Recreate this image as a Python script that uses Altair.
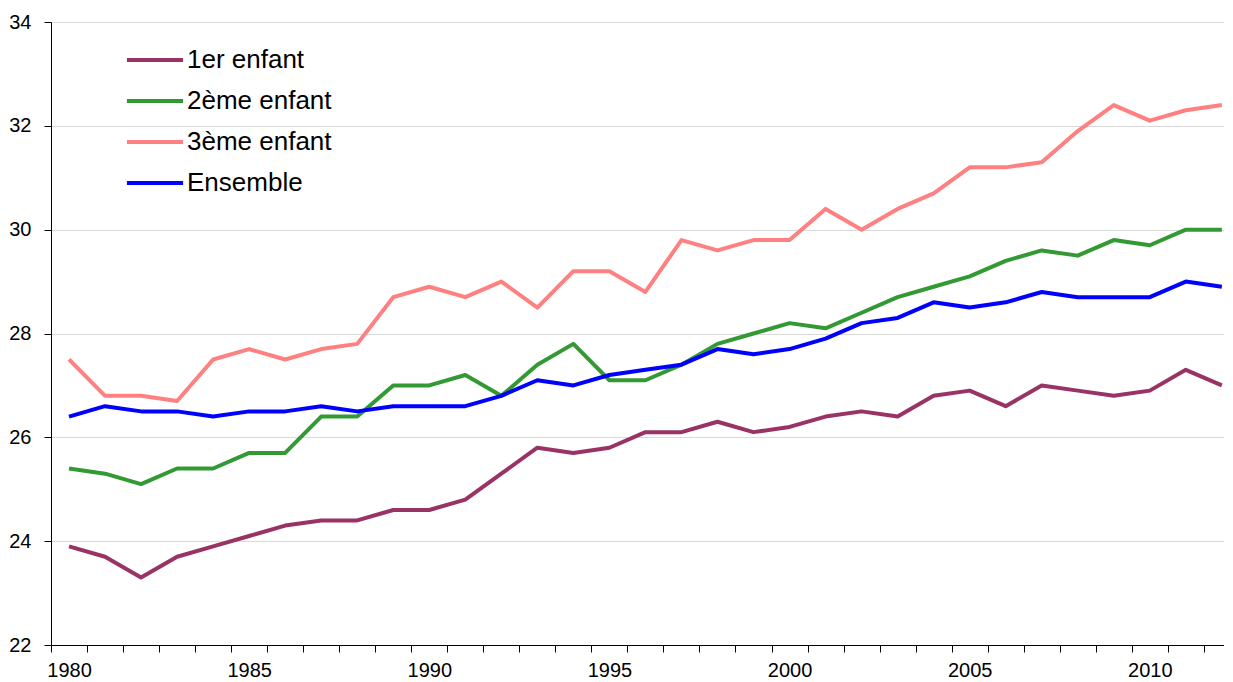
import altair as alt
import pandas as pd

years = list(range(1980, 2013))
premier = [23.9, 23.7, 23.3, 23.7, 23.9, 24.1, 24.3, 24.4, 24.4, 24.6,
           24.6, 24.8, 25.3, 25.8, 25.7, 25.8, 26.1, 26.1, 26.3, 26.1,
           26.2, 26.4, 26.5, 26.4, 26.8, 26.9, 26.6, 27.0, 26.9, 26.8,
           26.9, 27.3, 27.0]
deuxieme = [25.4, 25.3, 25.1, 25.4, 25.4, 25.7, 25.7, 26.4, 26.4, 27.0,
            27.0, 27.2, 26.8, 27.4, 27.8, 27.1, 27.1, 27.4, 27.8, 28.0,
            28.2, 28.1, 28.4, 28.7, 28.9, 29.1, 29.4, 29.6, 29.5, 29.8,
            29.7, 30.0, 30.0]
troisieme = [27.5, 26.8, 26.8, 26.7, 27.5, 27.7, 27.5, 27.7, 27.8, 28.7,
             28.9, 28.7, 29.0, 28.5, 29.2, 29.2, 28.8, 29.8, 29.6, 29.8,
             29.8, 30.4, 30.0, 30.4, 30.7, 31.2, 31.2, 31.3, 31.9, 32.4,
             32.1, 32.3, 32.4]
ensemble = [26.4, 26.6, 26.5, 26.5, 26.4, 26.5, 26.5, 26.6, 26.5, 26.6,
            26.6, 26.6, 26.8, 27.1, 27.0, 27.2, 27.3, 27.4, 27.7, 27.6,
            27.7, 27.9, 28.2, 28.3, 28.6, 28.5, 28.6, 28.8, 28.7, 28.7,
            28.7, 29.0, 28.9]

series_names = ["1er enfant", "2ème enfant", "3ème enfant", "Ensemble"]
series_colors = ["#993366", "#339933", "#FF8080", "#0000FF"]
y_ticks = [22, 24, 26, 28, 30, 32, 34]
x_label_years = [1980, 1985, 1990, 1995, 2000, 2005, 2010]

rows = []
for name, vals in zip(series_names, [premier, deuxieme, troisieme, ensemble]):
    for yr, v in zip(years, vals):
        rows.append({"annee": yr, "age": v, "serie": name,
                     "ordre": series_names.index(name)})
df = pd.DataFrame(rows)

x_min = years[0] - 0.5
x_max = 2012.06
x_boundaries = [y - 0.5 for y in years]
x_values = sorted(x_boundaries + x_label_years)

FONT = "Liberation Sans"

chart = alt.Chart(df).mark_line(strokeWidth=4, strokeJoin="round").encode(
    x=alt.X("annee:Q",
            scale=alt.Scale(domain=[x_min, x_max], nice=False, zero=False),
            axis=alt.Axis(title=None, values=x_values, grid=False,
                          labelExpr="datum.value % 5 == 0 ? toString(datum.value) : ''",
                          labelOverlap=False, labelBound=False, labelFlush=False,
                          tickOpacity={"condition": {"test": "datum.value % 1 == 0", "value": 0}, "value": 1},
                          tickSize=7, tickColor="#000000", tickWidth=1,
                          domainColor="#000000", domainWidth=1,
                          labelFontSize=20, labelFont=FONT, labelColor="#000000",
                          labelPadding=8)),
    y=alt.Y("age:Q",
            scale=alt.Scale(domain=[22, 34], nice=False, zero=False),
            axis=alt.Axis(title=None, values=y_ticks, grid=True, gridColor="#D9D9D9",
                          gridWidth=1, tickSize=7, tickColor="#000000",
                          domainColor="#000000", domainWidth=1,
                          labelFontSize=20, labelFont=FONT, labelColor="#000000",
                          labelPadding=13)),
    color=alt.Color("serie:N",
                    scale=alt.Scale(domain=series_names, range=series_colors),
                    legend=alt.Legend(title=None, orient="none", legendX=76, legendY=10,
                                      symbolType="M-1.08,0L1.08,0", symbolSize=2704,
                                      symbolStrokeWidth=4, symbolFillColor="transparent",
                                      labelFontSize=26,
                                      labelFont=FONT, labelColor="#000000",
                                      labelOffset=4, rowPadding=0, padding=0)),
    order=alt.Order("ordre:Q"),
).properties(
    width=1173, height=623,
).configure_view(stroke=None).configure(padding={"left": 0, "top": 4, "right": 0, "bottom": 0})

chart.save("out.html", embed_options={"renderer": "svg", "actions": False})
